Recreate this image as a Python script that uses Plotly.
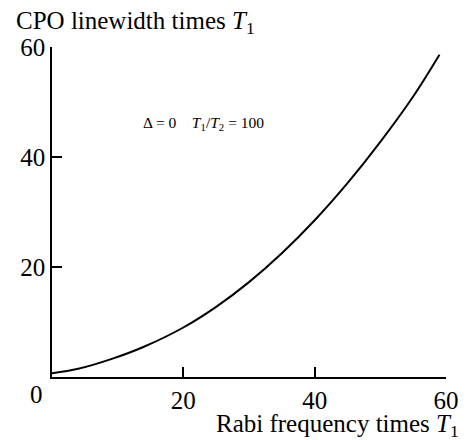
import plotly.graph_objects as go

# Data
rabi_t1 = [0, 4, 9, 14, 20, 25, 30, 35, 40, 45, 50, 55, 59]
cpo_width_t1 = [0.7, 1.5, 3.25, 5.5, 9.0, 12.75, 17.25, 22.5, 28.5, 35.25, 42.75, 51.0, 58.6]

x_tickvals = [20, 40, 60]
x_ticktext = ["20", "40", "60"]
y_tickvals = [20, 40, 60]
y_ticktext = ["20", "40", "60"]

FONT = "Liberation Serif, Times New Roman, serif"
FS = 25

fig = go.Figure()
fig.add_trace(go.Scatter(
    x=rabi_t1, y=cpo_width_t1, mode="lines",
    line=dict(color="black", width=2, shape="spline"),
    showlegend=False, hoverinfo="skip",
))

# page has an 8px body margin; figure is sized/offset to compensate
fig.update_layout(
    template="simple_white",
    width=463, height=432,
    margin=dict(l=39, r=18, t=39, b=63),
    paper_bgcolor="white", plot_bgcolor="white",
    font=dict(family=FONT, size=FS, color="black"),
    xaxis=dict(
        range=[0, 60], tickvals=x_tickvals, ticktext=x_ticktext,
        ticks="inside", ticklen=10, tickwidth=2, tickcolor="black",
        showline=True, linecolor="black", linewidth=1.5,
        showgrid=False, zeroline=False, fixedrange=True,
        tickfont=dict(family=FONT, size=FS, color="black"),
    ),
    yaxis=dict(
        range=[0, 60], tickvals=y_tickvals, ticktext=y_ticktext,
        ticks="inside", ticklen=10, tickwidth=2, tickcolor="black",
        showline=True, linecolor="black", linewidth=1.5,
        showgrid=False, zeroline=False, fixedrange=True,
        tickfont=dict(family=FONT, size=FS, color="black"),
    ),
    annotations=[
        dict(text="CPO linewidth times <i>T</i><sub>1</sub>",
             xref="paper", yref="paper", x=-39/406, y=1 + 25/330,
             xanchor="left", yanchor="middle", showarrow=False,
             font=dict(family=FONT, size=FS, color="black")),
        dict(text="Rabi frequency times <i>T</i><sub>1</sub>",
             xref="paper", yref="paper", x=1 + 15/406, y=-48/330,
             xanchor="right", yanchor="middle", showarrow=False,
             font=dict(family=FONT, size=FS, color="black")),
        dict(text="0", xref="paper", yref="paper", x=-16/406, y=-18/330,
             xanchor="center", yanchor="middle", showarrow=False,
             font=dict(family=FONT, size=FS, color="black")),
        dict(text="Δ = 0&nbsp;&nbsp;&nbsp;&nbsp;<i>T</i><sub>1</sub>/<i>T</i><sub>2</sub> = 100",
             xref="paper", yref="paper", x=92/406, y=1 - 76/330,
             xanchor="left", yanchor="middle", showarrow=False,
             font=dict(family=FONT, size=15.5, color="black")),
    ],
)

fig.write_html("out.html")
